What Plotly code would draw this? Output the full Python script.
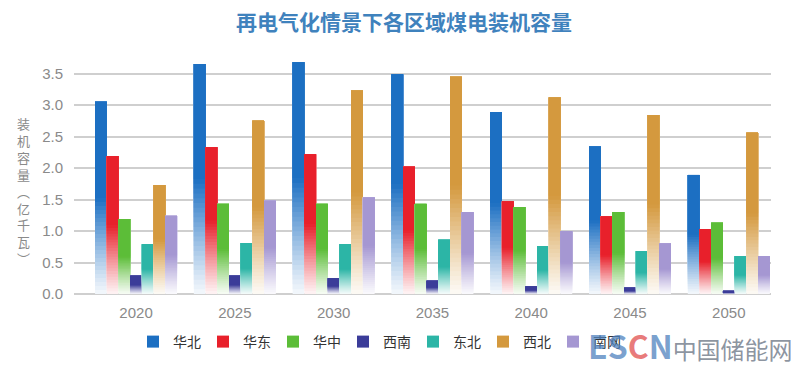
import plotly.graph_objects as go

years = ["2020", "2025", "2030", "2035", "2040", "2045", "2050"]
regions = ["华北", "华东", "华中", "西南", "东北", "西北", "南网"]

huabei = [3.05, 3.65, 3.68, 3.49, 2.89, 2.34, 1.89]
huadong = [2.19, 2.33, 2.22, 2.02, 1.47, 1.23, 1.03]
huazhong = [1.19, 1.43, 1.43, 1.43, 1.38, 1.30, 1.13]
xinan = [0.29, 0.29, 0.25, 0.21, 0.12, 0.10, 0.05]
dongbei = [0.79, 0.81, 0.79, 0.86, 0.76, 0.68, 0.60]
xibei = [1.73, 2.75, 3.23, 3.45, 3.12, 2.84, 2.56]
nanwang = [1.24, 1.48, 1.53, 1.30, 1.00, 0.80, 0.60]

series = [huabei, huadong, huazhong, xinan, dongbei, xibei, nanwang]
colors = ["#1c6fc2", "#e8202b", "#5cbd38", "#3b3c99", "#2cb5a6", "#d4993e", "#a597d2"]

ytick_vals = [0.0, 0.5, 1.0, 1.5, 2.0, 2.5, 3.0, 3.5]

FONT = "Noto Sans CJK SC, Noto Sans, sans-serif"
N_FADE = 24
FADE_FRAC = 0.5

# the page body has an 8px margin; the figure is sized to fit the window
W, H = 792, 358


def hex_rgb(h):
    h = h.lstrip("#")
    return tuple(int(h[i:i + 2], 16) for i in (0, 2, 4))


def mix(c, s):
    r, g, b = hex_rgb(c)
    return "rgb(%d,%d,%d)" % (round(255 + (r - 255) * s), round(255 + (g - 255) * s), round(255 + (b - 255) * s))


xs = list(range(len(years)))
fig = go.Figure()
for name, vals, col in zip(regions, series, colors):
    # legend entry (zero-height, same group)
    fig.add_trace(go.Bar(
        x=xs, y=[0] * len(xs), name=name, offsetgroup=name, legendgroup=name,
        marker=dict(color=col, line=dict(width=0)), showlegend=True, hoverinfo="skip",
    ))
    # fading lower part: each layer reaches up to the full bar top, drawn bottom-up
    for k in range(N_FADE):
        a0 = FADE_FRAC * k / N_FADE
        t = (k + 0.5) / N_FADE
        s = 0.05 + 0.95 * (t ** 1.1)
        fig.add_trace(go.Bar(
            x=xs, y=[v * (1 - a0) for v in vals], base=[v * a0 for v in vals],
            name=name, offsetgroup=name, legendgroup=name,
            marker=dict(color=mix(col, s), line=dict(width=0)),
            showlegend=False, hoverinfo="skip",
        ))
    # solid upper part
    fig.add_trace(go.Bar(
        x=xs, y=[v * (1 - FADE_FRAC) for v in vals], base=[v * FADE_FRAC for v in vals],
        name=name, offsetgroup=name, legendgroup=name, marker=dict(color=col, line=dict(width=0)),
        showlegend=False,
    ))

fig.update_layout(
    width=W, height=H,
    margin=dict(l=66, r=29, t=50, b=72, autoexpand=False),
    paper_bgcolor="white", plot_bgcolor="white",
    barmode="group", bargap=0.17, bargroupgap=0,
    font=dict(family=FONT, color="#888888"),
    title=dict(text="<b>再电气化情景下各区域煤电装机容量</b>", x=396 / W, xanchor="center",
               y=1 - 15 / H, yanchor="middle", yref="container",
               font=dict(family=FONT, size=21, color="#3f82bd")),
    xaxis=dict(range=[-0.628, 6.427], tickvals=xs, ticktext=years, showgrid=False,
               zeroline=False, showline=False, ticks="", ticklabelstandoff=8,
               tickfont=dict(family="Liberation Sans, Arial, sans-serif", size=15, color="#8a8a8a")),
    yaxis=dict(range=[0, 3.746], tickvals=ytick_vals, tickformat=".1f", showgrid=True,
               gridcolor="#cfcfcf", gridwidth=1.5, zeroline=True, zerolinecolor="#cfcfcf",
               zerolinewidth=1.5, ticks="", ticklabelstandoff=10,
               tickfont=dict(family="Liberation Sans, Arial, sans-serif", size=15, color="#8a8a8a")),
    legend=dict(orientation="h", xref="container", yref="container",
                x=125 / W, xanchor="left", y=1 - 334 / H, yanchor="middle",
                entrywidth=25, entrywidthmode="pixels",
                font=dict(family=FONT, size=14, color="#333333"), bgcolor="rgba(0,0,0,0)",
                traceorder="normal"),
    showlegend=True,
)

fig.add_annotation(
    text="<br>".join(list("装机容量︵亿千瓦︶")), xref="paper", yref="paper",
    x=-(66 - 15) / 697, y=(286 - 183) / 236, xanchor="center", yanchor="middle", showarrow=False,
    font=dict(family=FONT, size=13, color="#8a8a8a"), align="center",
)

fig.add_annotation(
    text="<b><span style='color:rgba(80,130,190,0.75);font-size:32px'>ES</span>"
         "<span style='color:rgba(225,80,80,0.75);font-size:32px'>C</span>"
         "<span style='color:rgba(80,130,190,0.75);font-size:32px'>N</span></b>"
         "<span style='color:rgba(110,120,135,0.8)'>中国储能网</span>",
    xref="paper", yref="paper", x=(787 - 66) / 697, y=(286 - 337) / 236, xanchor="right", yanchor="middle",
    showarrow=False, font=dict(family=FONT, size=24),
)

fig.write_html("out.html")
